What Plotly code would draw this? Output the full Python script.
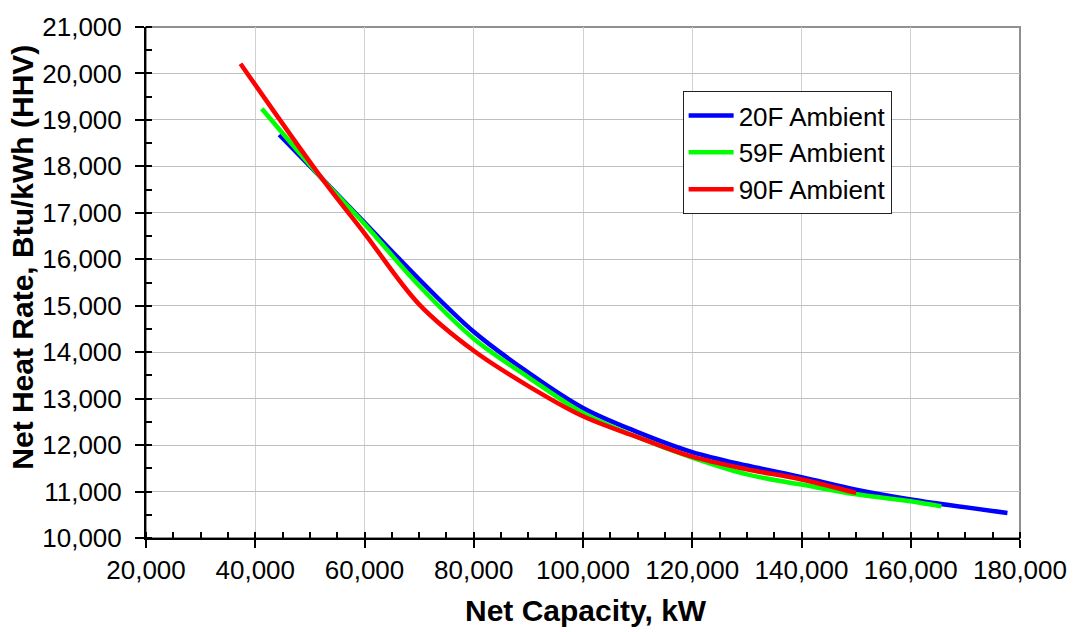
import plotly.graph_objects as go

# ---- data ----
series_names = ["20F Ambient", "59F Ambient", "90F Ambient"]
series_colors = ["#0000FF", "#00FF00", "#FF0000"]

cap_20f = [44400, 52200, 60000, 70000, 80000, 90000, 100000, 110000,
           120000, 130000, 140000, 150000, 160000, 177700]
hr_20f = [18680, 17740, 16790, 15570, 14440, 13560, 12800, 12280,
          11850, 11560, 11310, 11040, 10830, 10540]

cap_59f = [41200, 52200, 60000, 70000, 80000, 90000, 100000, 110000,
           120000, 130000, 140000, 150000, 160000, 165600]
hr_59f = [19240, 17740, 16760, 15430, 14290, 13460, 12690, 12170,
          11730, 11370, 11150, 10940, 10790, 10680]

cap_90f = [37300, 52200, 60000, 70000, 80000, 90000, 100000,
           110000, 120000, 130000, 140000, 150000]
hr_90f = [20210, 17740, 16560, 15030, 14030, 13270, 12620,
          12170, 11750, 11480, 11260, 10970]

x_range = [20000, 180000]
y_range = [10000, 21000]
x_title = "Net Capacity, kW"
y_title = "Net Heat Rate, Btu/kWh (HHV)"

FONT = "Liberation Sans, Arial, sans-serif"

fig = go.Figure()
for name, color, xs, ys in zip(series_names, series_colors,
                               [cap_20f, cap_59f, cap_90f],
                               [hr_20f, hr_59f, hr_90f]):
    fig.add_trace(go.Scatter(x=xs, y=ys, mode="lines", name=name,
                             line=dict(color=color, width=4.5, shape="spline", smoothing=1.0)))

# empty trace so the overlay axes (inside half of the crossing major ticks) are drawn
fig.add_trace(go.Scatter(x=[], y=[], xaxis="x2", yaxis="y2", showlegend=False, hoverinfo="skip"))

fig.update_layout(
    width=1079, height=632,
    margin=dict(l=146, r=53, t=20, b=94),
    paper_bgcolor="white", plot_bgcolor="white",
    font=dict(family=FONT, color="black", size=26),
    showlegend=True,
    legend=dict(x=0.614, y=0.8745, xanchor="left", yanchor="top",
                bgcolor="white", bordercolor="#222222", borderwidth=1,
                font=dict(size=26, family=FONT), tracegroupgap=0,
                itemwidth=45),
    xaxis=dict(range=x_range, dtick=20000, tickformat=",", showgrid=True,
               gridcolor="#D0D0D0", gridwidth=1, zeroline=False,
               showline=True, linecolor="black", linewidth=2,
               ticks="outside", ticklen=8, tickwidth=1.5, tickcolor="black",
               tickfont=dict(size=26, family=FONT),
               minor=dict(dtick=5000, ticks="inside", ticklen=6, tickwidth=1.5,
                          tickcolor="black", showgrid=False)),
    yaxis=dict(range=y_range, dtick=1000, tickformat=",", showgrid=True,
               gridcolor="#BEBEBE", gridwidth=1, zeroline=False,
               showline=True, linecolor="black", linewidth=2,
               ticks="outside", ticklen=9, tickwidth=1.5, tickcolor="black",
               ticklabelstandoff=8,
               tickfont=dict(size=26, family=FONT),
               minor=dict(dtick=500, ticks="inside", ticklen=6, tickwidth=1.5,
                          tickcolor="black", showgrid=False)),
    xaxis2=dict(range=x_range, dtick=20000, overlaying="x", anchor="y2",
                showgrid=False, zeroline=False, showline=False, showticklabels=False,
                ticks="inside", ticklen=6, tickwidth=1.5, tickcolor="black"),
    yaxis2=dict(range=y_range, dtick=1000, overlaying="y", anchor="x2",
                showgrid=False, zeroline=False, showline=False, showticklabels=False,
                ticks="inside", ticklen=6, tickwidth=1.5, tickcolor="black"),
    shapes=[dict(type="rect", xref="paper", yref="paper", x0=0, x1=1, y0=0, y1=1,
                 line=dict(color="#909090", width=2), layer="below")],
    annotations=[
        dict(text=x_title, xref="paper", yref="paper", x=0.503, y=-0.141,
             xanchor="center", yanchor="middle", showarrow=False,
             font=dict(size=30, family=FONT, color="black", weight="bold")),
        dict(text=y_title, xref="paper", yref="paper", x=-0.141, y=0.55,
             xanchor="center", yanchor="middle", showarrow=False, textangle=-90,
             font=dict(size=30, family=FONT, color="black", weight="bold")),
    ],
)

fig.write_html("out.html", config={"displayModeBar": False},
               post_script="document.body.style.margin='0';document.body.style.overflow='hidden';")
